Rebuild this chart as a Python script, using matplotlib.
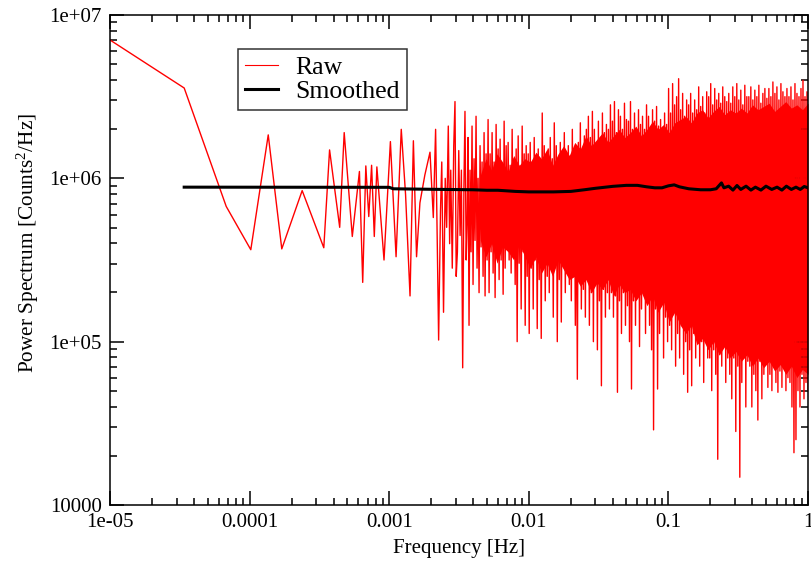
import numpy as np
import matplotlib
matplotlib.use("Agg")
import matplotlib.pyplot as plt

plt.rcParams['font.family'] = ['Liberation Serif', 'DejaVu Serif']
plt.rcParams['mathtext.fontset'] = 'custom'
plt.rcParams['mathtext.rm'] = 'Liberation Serif'
plt.rcParams['mathtext.it'] = 'Liberation Serif:italic'
plt.rcParams['path.simplify'] = False

# ---------------- data ----------------
# Raw periodogram: resolved low-frequency points (Hz, log10 power)
raw_low_f = [1.0e-5, 3.4e-5, 6.8e-5, 1.02e-4, 1.36e-4, 1.70e-4, 2.38e-4, 3.40e-4,
             3.74e-4, 4.42e-4, 4.76e-4, 5.44e-4, 6.12e-4, 6.46e-4, 6.80e-4, 7.14e-4,
             7.48e-4, 7.82e-4, 8.16e-4, 9.18e-4, 1.02e-3, 1.12e-3, 1.22e-3,
             1.31e-3, 1.41e-3, 1.49e-3, 1.57e-3, 1.66e-3, 1.80e-3, 1.96e-3, 2.07e-3,
             2.15e-3, 2.21e-3, 2.26e-3, 2.33e-3, 2.38e-3, 2.45e-3, 2.52e-3, 2.58e-3,
             2.65e-3, 2.71e-3, 2.76e-3, 2.83e-3, 2.90e-3, 2.96e-3, 3.02e-3, 3.08e-3,
             3.15e-3, 3.22e-3, 3.29e-3, 3.36e-3, 3.43e-3, 3.49e-3, 3.56e-3, 3.62e-3]
raw_low_logp = [6.847, 6.553, 5.828, 5.563, 6.266, 5.568, 5.925, 5.575,
                6.174, 5.700, 6.280, 5.644, 6.042, 5.363, 6.076, 5.766,
                6.080, 5.644, 6.070, 5.500, 6.225, 5.520, 6.300,
                5.90, 5.28, 6.23, 5.52, 5.85, 6.02, 6.16, 5.76,
                6.30, 5.60, 5.01, 5.80, 6.10, 5.18, 6.00, 5.70,
                6.32, 5.60, 6.05, 5.45, 6.20, 6.47, 5.40, 5.55,
                6.17, 5.65, 6.05, 4.84, 5.95, 6.41, 5.50, 5.74]

# Raw periodogram, dense part: alternating upper / lower excursions (log10 power)
raw_dense_start = 3.67e-3
raw_dense_end = 1.0
raw_dense_hi = [
    6.25, 6.05, 6.32, 6.12, 6.38, 6.00, 6.20, 6.10, 6.28, 6.15,
    6.36, 6.15, 6.28, 6.10, 6.33, 6.18, 6.24, 6.08, 6.35, 6.20,
    6.22, 6.08, 6.30, 6.12, 6.18, 6.26, 6.05, 6.32, 6.15, 6.20,
    6.15, 6.22, 6.10, 6.25, 6.05, 6.18, 6.12, 6.40, 6.20, 6.08,
    6.18, 6.25, 6.12, 6.34, 6.20, 6.10, 6.22, 6.15, 6.28, 6.12,
    6.20, 6.10, 6.30, 6.16, 6.05, 6.22, 6.34, 6.18, 6.26, 6.30,
    6.38, 6.25, 6.41, 6.30, 6.20, 6.35, 6.22, 6.40, 6.28, 6.33,
    6.30, 6.45, 6.35, 6.47, 6.28, 6.42, 6.38, 6.30, 6.46, 6.36,
    6.35, 6.47, 6.30, 6.40, 6.28, 6.42, 6.33, 6.38, 6.30, 6.45,
    6.38, 6.30, 6.42, 6.35, 6.44, 6.32, 6.36, 6.30, 6.40, 6.33,
    6.55, 6.40, 6.58, 6.45, 6.50, 6.61, 6.42, 6.52, 6.38, 6.48,
    6.45, 6.52, 6.40, 6.48, 6.42, 6.56, 6.44, 6.50, 6.40, 6.53,
    6.50, 6.58, 6.45, 6.55, 6.48, 6.52, 6.46, 6.56, 6.50, 6.47,
    6.52, 6.46, 6.56, 6.50, 6.58, 6.48, 6.54, 6.45, 6.57, 6.50,
    6.50, 6.56, 6.48, 6.54, 6.50, 6.57, 6.46, 6.52, 6.55, 6.49,
    6.55, 6.50, 6.59, 6.52, 6.56, 6.48, 6.58, 6.53, 6.50, 6.55,
    6.50, 6.56, 6.48, 6.58, 6.52, 6.50, 6.55, 6.60, 6.50, 6.53]
raw_dense_lo = [
    5.10, 5.55, 5.35, 5.62, 5.45, 5.30, 5.58, 5.40, 5.28, 5.50,
    5.30, 5.55, 5.42, 5.27, 5.60, 5.38, 5.50, 5.29, 5.45, 5.58,
    5.50, 5.42, 5.58, 5.35, 5.00, 5.48, 5.20, 5.55, 5.10, 5.40,
    5.05, 5.45, 5.20, 5.50, 5.08, 5.38, 5.02, 5.45, 5.25, 5.40,
    5.30, 5.45, 5.15, 5.50, 5.00, 5.38, 5.12, 5.48, 5.30, 5.42,
    5.35, 5.25, 5.45, 5.10, 4.77, 5.40, 5.20, 5.32, 5.15, 5.38,
    5.10, 5.30, 5.00, 5.35, 4.95, 5.25, 4.73, 5.32, 5.15, 5.30,
    5.20, 5.30, 5.15, 5.28, 4.69, 5.25, 5.05, 5.30, 5.10, 5.22,
    5.00, 4.71, 5.25, 5.10, 5.30, 4.97, 5.20, 5.35, 5.05, 5.28,
    5.10, 4.95, 4.46, 5.20, 4.71, 5.05, 5.25, 4.90, 5.15, 5.00,
    5.10, 4.95, 5.20, 4.85, 5.05, 4.90, 5.15, 4.80, 5.00, 4.69,
    4.95, 4.73, 5.05, 4.90, 5.10, 4.85, 5.00, 4.75, 5.08, 4.90,
    4.90, 4.70, 4.95, 4.80, 4.28, 4.92, 4.85, 4.98, 4.75, 4.90,
    4.80, 4.65, 4.90, 4.45, 4.85, 4.17, 4.75, 4.90, 4.60, 4.88,
    4.85, 4.60, 4.80, 4.70, 4.52, 4.88, 4.65, 4.80, 4.90, 4.72,
    4.80, 4.70, 4.85, 4.75, 4.69, 4.82, 4.72, 4.88, 4.70, 4.78,
    4.75, 4.60, 4.32, 4.40, 4.70, 4.60, 4.80, 4.65, 4.75, 4.70]

# Solid core of the dense raw trace (where thousands of points overlap), log10 power
core_start = 4.5e-3
core_end = 1.0
core_top_logp = [6.02, 6.12, 6.05, 6.15, 6.10, 6.04, 6.14, 6.08, 6.12,
                 6.10, 6.16, 6.12, 6.18, 6.08, 6.15, 6.20, 6.14,
                 6.22, 6.18, 6.26, 6.20, 6.24, 6.28, 6.22, 6.26, 6.30, 6.25,
                 6.28, 6.32, 6.26, 6.30, 6.35, 6.30, 6.33, 6.28, 6.34, 6.36,
                 6.38, 6.34, 6.40, 6.42, 6.37, 6.41, 6.44, 6.39, 6.42, 6.40,
                 6.43, 6.40, 6.45, 6.42, 6.44, 6.46, 6.41, 6.44, 6.47, 6.43,
                 6.45, 6.42, 6.46]
core_bot_logp = [5.62, 5.52, 5.60, 5.48, 5.58, 5.55, 5.50, 5.60, 5.52,
                 5.45, 5.52, 5.42, 5.48, 5.40, 5.50, 5.44, 5.38,
                 5.40, 5.34, 5.38, 5.30, 5.36, 5.32, 5.38, 5.28, 5.35, 5.30,
                 5.32, 5.25, 5.30, 5.22, 5.28, 5.18, 5.24, 5.12, 5.18, 5.10,
                 5.05, 5.10, 4.98, 5.02, 4.95, 5.00, 4.92, 4.97, 4.90, 4.94,
                 4.88, 4.92, 4.85, 4.90, 4.84, 4.88, 4.82, 4.86, 4.80, 4.85,
                 4.78, 4.83, 4.80]

# Smoothed spectrum (Hz, log10 power)
smooth_f = [3.4e-5, 1.0e-3, 1.07e-3, 2.0e-3, 4.0e-3, 5.0e-3, 6.0e-3, 8.0e-3, 0.01,
            0.015, 0.02, 0.025, 0.03, 0.04, 0.05, 0.06, 0.07, 0.08, 0.09, 0.1,
            0.11, 0.12, 0.14, 0.17, 0.2, 0.22, 0.24, 0.25, 0.27, 0.29, 0.31, 0.33,
            0.36, 0.39, 0.42, 0.46, 0.5, 0.55, 0.6, 0.65, 0.7, 0.76, 0.82, 0.88,
            0.94, 1.0]
smooth_logp = [5.946, 5.945, 5.936, 5.933, 5.930, 5.927, 5.927, 5.920, 5.917,
               5.917, 5.920, 5.930, 5.939, 5.951, 5.957, 5.957, 5.948, 5.942, 5.942, 5.954,
               5.960, 5.948, 5.936, 5.930, 5.930, 5.936, 5.972, 5.942, 5.952, 5.928, 5.956, 5.932,
               5.952, 5.928, 5.946, 5.928, 5.952, 5.932, 5.946, 5.928, 5.952, 5.932, 5.946, 5.932,
               5.950, 5.942]

xtick_vals = [1e-5, 1e-4, 1e-3, 1e-2, 1e-1, 1]
xtick_labels = ["1e-05", "0.0001", "0.001", "0.01", "0.1", "1"]
ytick_vals = [1e4, 1e5, 1e6, 1e7]
ytick_labels = ["10000", "1e+05", "1e+06", "1e+07"]

# ---------------- build series ----------------
dense_f = np.geomspace(raw_dense_start, raw_dense_end, 2 * len(raw_dense_hi))
dense_logp = np.empty(2 * len(raw_dense_hi))
dense_logp[0::2] = raw_dense_hi
dense_logp[1::2] = raw_dense_lo

raw_f = np.concatenate([raw_low_f, dense_f])
raw_p = 10.0 ** np.concatenate([raw_low_logp, dense_logp])
sm_f = np.array(smooth_f)
sm_p = 10.0 ** np.array(smooth_logp)
core_f = np.geomspace(core_start, core_end, len(core_top_logp))

# ---------------- figure ----------------
fig = plt.figure(figsize=(8.11, 5.63), dpi=100)
ax = fig.add_axes([110 / 811, 1 - 505 / 563, 698 / 811, 490 / 563])

ax.fill_between(core_f, 10.0 ** np.array(core_bot_logp), 10.0 ** np.array(core_top_logp),
                color='red', lw=0, zorder=1)
ax.plot(raw_f, raw_p, color='red', lw=1.0, label='Raw', zorder=2)
ax.plot(sm_f, sm_p, color='black', lw=2.2, label='Smoothed', zorder=3)

ax.set_xscale('log')
ax.set_yscale('log')
ax.set_xlim(1e-5, 1)
ax.set_ylim(1e4, 1e7)

ax.set_xticks(xtick_vals)
ax.set_xticklabels(xtick_labels)
ax.set_yticks(ytick_vals)
ax.set_yticklabels(ytick_labels)

ax.tick_params(which='both', direction='in', top=True, right=True, width=1.1)
ax.tick_params(which='major', length=10, labelsize=15, pad=6)
ax.tick_params(which='minor', length=5)
for s in ax.spines.values():
    s.set_linewidth(1.1)

ax.set_xlabel('Frequency [Hz]', fontsize=15, labelpad=5)
ax.set_ylabel('Power Spectrum [Counts$^2$/Hz]', fontsize=15.3)
ax.yaxis.set_label_coords(-0.0995, 0.535)

leg = ax.legend(loc='upper left', bbox_to_anchor=(0.183, 0.931), borderaxespad=0,
                fontsize=18.5, frameon=True, fancybox=False, edgecolor='black',
                handlelength=1.3, handletextpad=0.65, labelspacing=0.05,
                borderpad=0.28)
leg.get_frame().set_linewidth(1.1)
# thin red handle like the reference legend
leg.get_lines()[0].set_linewidth(0.8)

fig.savefig('out.png', dpi=100)
